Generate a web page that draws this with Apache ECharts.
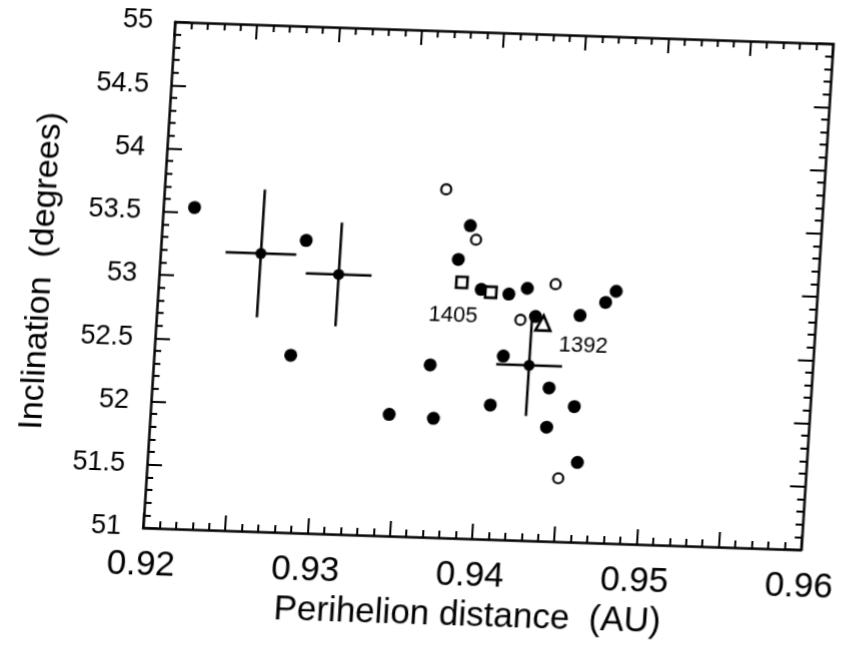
<!DOCTYPE html>
<html><head><meta charset="utf-8">
<script src="https://cdn.jsdelivr.net/npm/echarts@6/dist/echarts.min.js"></script>
<style>
html,body{margin:0;padding:0;background:#fff;overflow:hidden}
#chart{width:854px;height:652px;transform-origin:496px 286px;transform:matrix(1,0.0334,-0.0632,1,0,0)}
</style>
</head><body><div id="chart"></div>
<script>
// Filled circles (perihelion distance AU, inclination deg)
const filledX = [0.9219, 0.9288, 0.9387, 0.9381, 0.9396, 0.9413, 0.9424, 0.9478, 0.9472, 0.9430, 0.9457, 0.9412, 0.9441, 0.9406, 0.9457, 0.9441, 0.9461, 0.9283, 0.9368, 0.9345, 0.9372];
const filledY = [53.54, 53.31, 53.47, 53.20, 52.97, 52.94, 52.99, 52.99, 52.90, 52.77, 52.79, 52.45, 52.21, 52.06, 52.07, 51.90, 51.63, 52.40, 52.36, 51.96, 51.94];
// Open circles
const openX = [0.9371, 0.9391, 0.9441, 0.9421, 0.9450];
const openY = [53.75, 53.36, 53.03, 52.74, 51.50];
// Open squares
const squareX = [0.9384, 0.9402];
const squareY = [53.02, 52.95];
// Open triangle
const triX = [0.9435];
const triY = [52.72];
// Points with error bars
const errX = [0.9261, 0.9309, 0.9428];
const errY = [53.195, 53.05, 52.383];
const errDX = [0.00215, 0.0020, 0.0020];
const errDY = [0.505, 0.41, 0.40];
// Annotations
const noteText = ['1405', '1392'];
const noteX = [0.9380, 0.9460];
const noteY = [52.756, 52.549];
// Axis ticks
const xMin = 0.92, xMax = 0.96, xStep = 0.005;
const yMin = 51, yMax = 55, yStep = 0.5;

const zip = (a, b) => a.map((v, i) => [v, b[i]]);
const FONT = 'Liberation Sans';

function xAxisCfg(pos, showLabel) {
  return {
    type: 'value', position: pos, min: xMin, max: xMax, interval: xStep,
    axisLine: { show: true, onZero: false, lineStyle: { color: '#000', width: 2.5 } },
    axisTick: { show: true, inside: true, length: 15, lineStyle: { color: '#000', width: 2 } },
    minorTick: { show: true, splitNumber: 5, length: 7, lineStyle: { color: '#000', width: 2 } },
    splitLine: { show: false },
    axisLabel: {
      show: showLabel, margin: 20, color: '#000', fontSize: 35, fontFamily: FONT,
      formatter: v => (Math.abs(Math.round(v * 100) - v * 100) < 1e-6) ? v.toFixed(2) : ''
    },
    name: showLabel ? 'Perihelion distance  (AU)' : '',
    nameLocation: 'middle', nameGap: 60,
    nameTextStyle: { color: '#000', fontSize: 35, fontFamily: FONT }
  };
}
function yAxisCfg(pos, showLabel) {
  return {
    type: 'value', position: pos, min: yMin, max: yMax, interval: yStep,
    axisLine: { show: true, onZero: false, lineStyle: { color: '#000', width: 2.5 } },
    axisTick: { show: true, inside: true, length: 15, lineStyle: { color: '#000', width: 2 } },
    minorTick: { show: true, splitNumber: 5, length: 7, lineStyle: { color: '#000', width: 2 } },
    splitLine: { show: false },
    axisLabel: { show: showLabel, margin: 22, color: '#000', fontSize: 27, fontFamily: FONT },
    name: showLabel ? 'Inclination  (degrees)' : '',
    nameLocation: 'middle', nameGap: 100,
    nameTextStyle: { color: '#000', fontSize: 34, fontFamily: FONT }
  };
}

const chart = echarts.init(document.getElementById('chart'), null, { renderer: 'canvas' });
chart.setOption({
  animation: false,
  backgroundColor: '#fff',
  grid: { left: 159, top: 33, width: 674, height: 506, containLabel: false },
  xAxis: [xAxisCfg('bottom', true), xAxisCfg('top', false)],
  yAxis: [yAxisCfg('left', true), yAxisCfg('right', false)],
  series: [
    {
      type: 'custom', z: 3,
      data: errX.map((x, i) => [x, errY[i], errDX[i], errDY[i]]),
      encode: { x: 0, y: 1 },
      renderItem: (params, api) => {
        const x = api.value(0), y = api.value(1), ex = api.value(2), ey = api.value(3);
        const l = api.coord([x - ex, y]), r = api.coord([x + ex, y]);
        const t = api.coord([x, y + ey]), b = api.coord([x, y - ey]);
        const st = { stroke: '#000', lineWidth: 2.5 };
        return { type: 'group', children: [
          { type: 'line', shape: { x1: l[0], y1: l[1], x2: r[0], y2: r[1] }, style: st },
          { type: 'line', shape: { x1: t[0], y1: t[1], x2: b[0], y2: b[1] }, style: st }
        ] };
      }
    },
    { type: 'scatter', z: 4, symbol: 'circle', symbolSize: 11, data: zip(errX, errY),
      itemStyle: { color: '#000', opacity: 1 } },
    { type: 'scatter', z: 4, symbol: 'circle', symbolSize: 13, data: zip(filledX, filledY),
      itemStyle: { color: '#000', opacity: 1 } },
    { type: 'scatter', z: 5, symbol: 'circle', symbolSize: 10, data: zip(openX, openY),
      itemStyle: { color: '#fff', borderColor: '#000', borderWidth: 2.2, opacity: 1 } },
    { type: 'scatter', z: 5, symbol: 'rect', symbolSize: 11, data: zip(squareX, squareY),
      itemStyle: { color: '#fff', borderColor: '#000', borderWidth: 2.6, opacity: 1 } },
    { type: 'scatter', z: 6, symbol: 'triangle', symbolSize: 15, data: zip(triX, triY),
      itemStyle: { color: '#fff', borderColor: '#000', borderWidth: 2.6, opacity: 1 } },
    { type: 'scatter', z: 7, symbolSize: 0, silent: true,
      data: noteText.map((t, i) => ({ name: t, value: [noteX[i], noteY[i]] })),
      itemStyle: { opacity: 1 },
      label: { show: true, position: 'inside', formatter: p => p.name, color: '#000',
               fontSize: 22, fontFamily: FONT } }
  ]
});
</script>
</body></html>
